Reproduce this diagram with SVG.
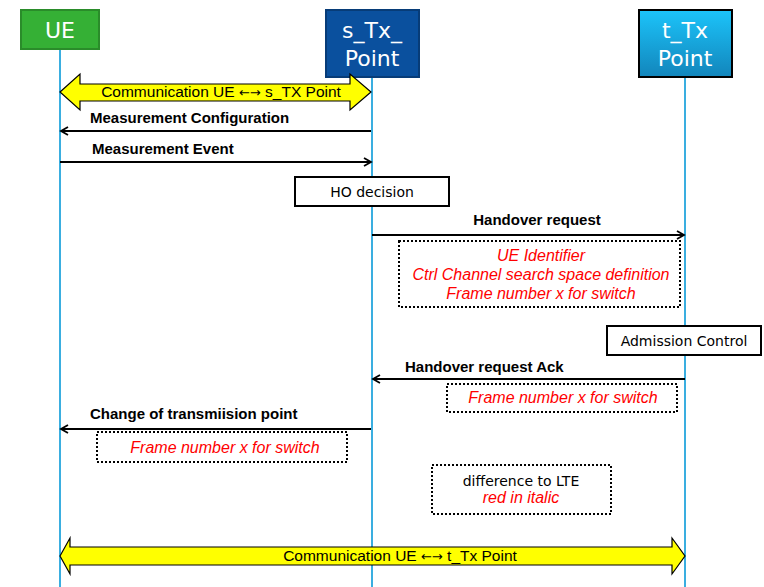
<svg xmlns="http://www.w3.org/2000/svg" width="764" height="587" viewBox="0 0 764 587">
<defs>
<linearGradient id="tg" x1="0" y1="0" x2="0" y2="1">
<stop offset="0" stop-color="#1cc4fa"/>
<stop offset="1" stop-color="#1285bb"/>
</linearGradient>
<marker id="ah" markerWidth="12" markerHeight="12" refX="10" refY="6" orient="auto" markerUnits="userSpaceOnUse">
<path d="M3,2 L10,6 L3,10" fill="none" stroke="#000" stroke-width="1.8"/>
</marker>
</defs>
<style>
.life{stroke:#3aaee0;stroke-width:2;fill:none}
.hdr{font-family:"DejaVu Sans","Liberation Sans",sans-serif;font-size:22px;fill:#fff;text-anchor:middle}
.msg{stroke:#000;stroke-width:2;fill:none;marker-end:url(#ah)}
.lbl{font-family:"Liberation Sans",Arial,sans-serif;font-size:15px;font-weight:bold;fill:#000}
.box{fill:#fff;stroke:#000;stroke-width:2}
.btxt{font-family:"DejaVu Sans","Liberation Sans",sans-serif;font-size:14px;fill:#000;text-anchor:middle}
.dot{fill:#fff;stroke:#000;stroke-width:2;stroke-dasharray:2 2}
.red{font-family:"Liberation Sans",Arial,sans-serif;font-size:16px;font-style:italic;fill:#ff0000;text-anchor:middle}
.yarr{fill:#ffff00;stroke:#000;stroke-width:1.2}
.ytxt{font-family:"Liberation Sans",Arial,sans-serif;font-size:15.5px;fill:#000;text-anchor:middle}
.arr{font-family:"DejaVu Sans",sans-serif;font-size:13px}
</style>
<rect width="764" height="587" fill="#fff"/>
<g id="lifelines">
<line class="life" x1="60" y1="49" x2="60" y2="587"/>
<line class="life" x1="372" y1="77" x2="372" y2="587"/>
<line class="life" x1="685" y1="77" x2="685" y2="587"/>
</g>
<g id="UE">
<rect x="21" y="10" width="78" height="39" fill="#35b035" stroke="#2a8c2a" stroke-width="2"/>
<text class="hdr" x="60" y="38">UE</text>
</g>
<g id="s_Tx_Point">
<rect x="326" y="10" width="93" height="67" fill="#0a509e" stroke="#073c78" stroke-width="2"/>
<text class="hdr" x="372" y="38">s_Tx_</text>
<text class="hdr" x="372" y="66">Point</text>
</g>
<g id="t_Tx_Point">
<rect x="639" y="10" width="93" height="67" fill="url(#tg)" stroke="#000" stroke-width="2"/>
<text class="hdr" x="685" y="38">t_Tx</text>
<text class="hdr" x="685" y="66">Point</text>
</g>
<g id="connectors">
<g id="comm1">
<path class="yarr" d="M60,92 L80,74 L80,84 L350,84 L350,74 L371,92 L350,110 L350,101 L80,101 L80,110 Z"/>
<text class="ytxt" x="221" y="97">Communication UE <tspan class="arr">←→</tspan> s_TX Point</text>
</g>
<g id="m1">
<line class="msg" x1="371" y1="131" x2="61" y2="131"/>
<text class="lbl" x="90" y="123">Measurement Configuration</text>
</g>
<g id="m2">
<line class="msg" x1="60" y1="162" x2="371" y2="162"/>
<text class="lbl" x="92" y="154">Measurement  Event</text>
</g>
<g id="m3">
<line class="msg" x1="372" y1="235" x2="684" y2="235"/>
<text class="lbl" x="537" y="225" text-anchor="middle">Handover request</text>
</g>
<g id="m4">
<line class="msg" x1="685" y1="379" x2="373" y2="379"/>
<text class="lbl" x="405" y="372">Handover request Ack</text>
</g>
<g id="m5">
<line class="msg" x1="371" y1="429" x2="61" y2="429"/>
<text class="lbl" x="90" y="419">Change of transmiision point</text>
</g>
<g id="comm2">
<path class="yarr" d="M60,556 L70,538 L70,547 L672,547 L672,538 L685,556 L672,574 L672,565 L70,565 L70,574 Z"/>
<text class="ytxt" x="400" y="561">Communication UE <tspan class="arr">←→</tspan> t_Tx Point</text>
</g>
</g>
<g id="ho_decision">
<rect class="box" x="295" y="177" width="154" height="29"/>
<text class="btxt" x="372" y="197">HO decision</text>
</g>
<g id="note_handover">
<rect class="dot" x="399" y="241" width="281" height="66"/>
<text class="red" x="541" y="261">UE Identifier</text>
<text class="red" x="541" y="280">Ctrl Channel search space definition</text>
<text class="red" x="541" y="299">Frame number x for switch</text>
</g>
<g id="admission_control">
<rect class="box" x="607" y="326" width="154" height="29"/>
<text class="btxt" x="684" y="346">Admission Control</text>
</g>
<g id="note_ack">
<rect class="dot" x="447" y="384" width="230" height="28"/>
<text class="red" x="563" y="403">Frame number x for switch</text>
</g>
<g id="note_change">
<rect class="dot" x="97" y="432" width="250" height="30"/>
<text class="red" x="225" y="453">Frame number x for switch</text>
</g>
<g id="legend">
<rect class="dot" x="432" y="465" width="179" height="49"/>
<text class="btxt" x="521" y="486">difference to LTE</text>
<text class="red" x="521" y="503">red in italic</text>
</g>
</svg>
